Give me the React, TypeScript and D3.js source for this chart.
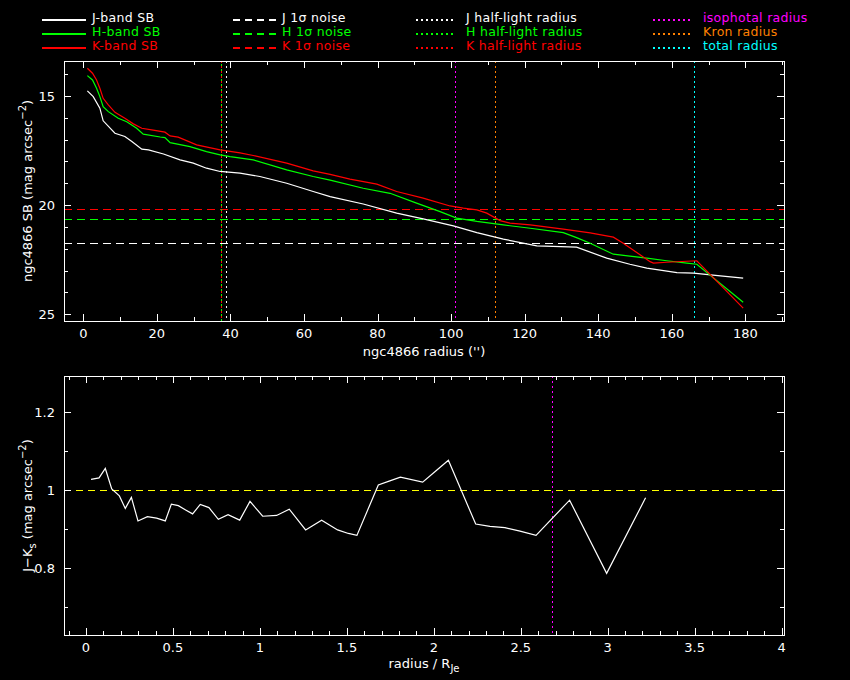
import React, { useEffect } from 'react';
import * as d3 from 'd3';

// surface brightness profiles (radius in arcsec, mag arcsec^-2)
const jRadius = [1.1, 2.7, 4.5, 5.4, 8.6, 11.3, 13.2, 15.9, 17.7, 21.8, 26.3, 29.9, 33.5, 37.2, 42.6, 48, 55.3, 62.5, 67.1, 76.1, 85.2, 92.4, 100.6, 107, 114.2, 123.3, 134.1, 142.3, 148.6, 153.2, 161.4, 165.9, 173.2, 179.4];
const jSB = [14.77, 15.03, 15.56, 16.14, 16.71, 16.86, 17.09, 17.44, 17.47, 17.66, 17.93, 18.08, 18.31, 18.46, 18.54, 18.69, 19.0, 19.38, 19.61, 19.95, 20.37, 20.63, 20.95, 21.26, 21.56, 21.87, 21.93, 22.43, 22.71, 22.89, 23.09, 23.12, 23.24, 23.35];

const hRadius = [1.1, 2.5, 3.6, 4.5, 5.4, 6.8, 9.5, 11.8, 14.5, 16.3, 20.9, 22.2, 23.6, 29, 33.5, 37.2, 39.9, 46.2, 55.3, 62.5, 67.1, 76.1, 83.4, 90.6, 97, 101.5, 107, 114.2, 121.5, 130.5, 134.1, 137.8, 144.1, 148.6, 153.2, 158.6, 164.1, 166.8, 179.4];
const hSB = [14.07, 14.27, 14.65, 15.03, 15.49, 15.72, 16.02, 16.18, 16.48, 16.75, 16.88, 16.91, 17.14, 17.32, 17.55, 17.7, 17.78, 17.93, 18.39, 18.69, 18.86, 19.23, 19.46, 19.91, 20.3, 20.6, 20.75, 20.91, 21.06, 21.26, 21.49, 21.75, 22.25, 22.34, 22.43, 22.55, 22.66, 22.71, 24.45];

const kRadius = [1.1, 2.5, 3.6, 4.5, 5.4, 6.8, 8.6, 11.3, 13.6, 15.9, 19, 22.2, 23.6, 25.8, 30.8, 37.2, 42.6, 46.2, 55.3, 62.5, 67.1, 72.5, 79.8, 85.2, 92.4, 99.7, 103.3, 107, 109.7, 113.3, 116, 121.5, 130.5, 137.8, 144.1, 146.8, 154.1, 155, 158.6, 166.8, 179.4];
const kSB = [13.73, 13.96, 14.27, 14.65, 15.11, 15.41, 15.75, 16.02, 16.28, 16.48, 16.57, 16.66, 16.83, 16.89, 17.24, 17.47, 17.61, 17.73, 18.08, 18.43, 18.59, 18.81, 19.04, 19.38, 19.68, 20.04, 20.14, 20.22, 20.37, 20.71, 20.83, 20.91, 21.1, 21.27, 21.47, 21.75, 22.59, 22.66, 22.62, 22.55, 24.72];

// J-Ks colour profile against radius / R_Je
const colorRadius = [0.029, 0.075, 0.111, 0.148, 0.192, 0.226, 0.261, 0.299, 0.353, 0.406, 0.456, 0.491, 0.531, 0.573, 0.613, 0.657, 0.707, 0.761, 0.817, 0.884, 0.943, 1.016, 1.096, 1.169, 1.263, 1.355, 1.447, 1.509, 1.558, 1.681, 1.739, 1.808, 1.936, 2.013, 2.084, 2.241, 2.323, 2.409, 2.496, 2.588, 2.781, 2.994, 3.218];
const colorJK = [1.027, 1.031, 1.055, 1.003, 0.985, 0.953, 0.981, 0.921, 0.932, 0.928, 0.921, 0.964, 0.96, 0.949, 0.939, 0.963, 0.955, 0.925, 0.937, 0.923, 0.971, 0.933, 0.935, 0.951, 0.898, 0.923, 0.898, 0.889, 0.884, 1.013, 1.022, 1.033, 1.02, 1.049, 1.076, 0.913, 0.907, 0.904, 0.895, 0.884, 0.974, 0.787, 0.98];

// J, H, K
const noiseLevels = [21.74, 20.65, 20.19];
const halfLightRadii = [38.9, 37.4, 37.4];
const isophotalRadius = 101.1;
const kronRadius = 112.0;
const totalRadius = 165.9;
const isophotalScaled = 2.681;
const colorReference = 1.0;

const sbXTicks = [0, 20, 40, 60, 80, 100, 120, 140, 160, 180];
const sbYTicks = [15, 20, 25];
const colorXTicks = [0, 0.5, 1, 1.5, 2, 2.5, 3, 3.5, 4];
const colorYTicks = [0.8, 1, 1.2];

const WHITE = '#ffffff';
const GREEN = '#00ff00';
const RED = '#ff0000';
const MAGENTA = '#ff00ff';
const ORANGE = '#ff8000';
const CYAN = '#00ffff';
const YELLOW = '#ffff00';
const FONT = 'DejaVu Sans, sans-serif';

const L = 64, R = 784;
const top1 = 61, bot1 = 321;
const top2 = 376, bot2 = 635;

function Frame({ x, y, xMajor, xMinor, yMajor, yMinor, top, bottom, xFmt, yFmt }: any) {
  const maj = 7, mn = 4;
  const els: any[] = [];
  xMinor.forEach((v: number, i: number) => {
    const px = Math.round(x(v)) + 0.5;
    els.push(<line key={'xb' + i} x1={px} x2={px} y1={bottom} y2={bottom - mn} />);
    els.push(<line key={'xt' + i} x1={px} x2={px} y1={top} y2={top + mn} />);
  });
  xMajor.forEach((v: number, i: number) => {
    const px = Math.round(x(v)) + 0.5;
    els.push(<line key={'Xb' + i} x1={px} x2={px} y1={bottom} y2={bottom - maj} />);
    els.push(<line key={'Xt' + i} x1={px} x2={px} y1={top} y2={top + maj} />);
  });
  yMinor.forEach((v: number, i: number) => {
    const py = Math.round(y(v)) + 0.5;
    els.push(<line key={'yl' + i} x1={L} x2={L + mn} y1={py} y2={py} />);
    els.push(<line key={'yr' + i} x1={R} x2={R - mn} y1={py} y2={py} />);
  });
  yMajor.forEach((v: number, i: number) => {
    const py = Math.round(y(v)) + 0.5;
    els.push(<line key={'Yl' + i} x1={L} x2={L + maj} y1={py} y2={py} />);
    els.push(<line key={'Yr' + i} x1={R} x2={R - maj} y1={py} y2={py} />);
  });
  return (
    <g>
      <g stroke={WHITE} strokeWidth={1} shapeRendering="crispEdges">
        <rect x={L + 0.5} y={top + 0.5} width={R - L} height={bottom - top} fill="none" />
        {els}
      </g>
      <g fill={WHITE} fontFamily={FONT} fontSize={13}>
        {xMajor.map((v: number, i: number) => (
          <text key={'xl' + i} x={x(v)} y={bottom + 17} textAnchor="middle">{xFmt(v)}</text>
        ))}
        {yMajor.map((v: number, i: number) => (
          <text key={'yl' + i} x={L - 9} y={y(v) + 5} textAnchor="end">{yFmt(v)}</text>
        ))}
      </g>
    </g>
  );
}

export default function App() {
  useEffect(() => {
    document.body.style.margin = '0';
    document.body.style.background = '#000';
  }, []);

  const x1 = d3.scaleLinear().domain([-5.25, 190.5]).range([L, R]);
  const y1 = d3.scaleLinear().domain([13.4, 25.31]).range([top1, bot1]);
  const x2 = d3.scaleLinear().domain([-0.1265, 4.014]).range([L, R]);
  const y2 = d3.scaleLinear().domain([0.6296, 1.2912]).range([bot2, top2]);

  const sbLine = d3.line<[number, number]>().x(d => x1(d[0])).y(d => y1(d[1]));
  const colLine = d3.line<[number, number]>().x(d => x2(d[0])).y(d => y2(d[1]));

  const profiles = [
    { r: jRadius, sb: jSB, color: WHITE },
    { r: hRadius, sb: hSB, color: GREEN },
    { r: kRadius, sb: kSB, color: RED },
  ];
  const bandColors = [WHITE, GREEN, RED];
  const bands = ['J', 'H', 'K'];

  const verticals = [
    { v: halfLightRadii[0], c: WHITE, off: 0 },
    { v: halfLightRadii[2], c: RED, off: 0 },
    { v: halfLightRadii[1], c: GREEN, off: 2.5 },
    { v: isophotalRadius, c: MAGENTA, off: 0 },
    { v: kronRadius, c: ORANGE, off: 0 },
    { v: totalRadius, c: CYAN, off: 0 },
  ];

  const rowText = [21.5, 35.5, 49.5];
  const rowLine = [20, 34, 48];
  const col4 = [
    { label: 'isophotal radius', c: MAGENTA },
    { label: 'Kron radius', c: ORANGE },
    { label: 'total radius', c: CYAN },
  ];

  return (
    <div style={{ position: 'absolute', left: 0, top: 0, width: 850, height: 680, background: '#000' }}>
      <svg width={850} height={680} style={{ display: 'block', background: '#000' }}>
        {/* legend */}
        <g fontFamily={FONT} fontSize={12.5} letterSpacing={0.3}>
          {bands.map((b, i) => (
            <g key={'lg' + b}>
              <line x1={42} x2={86} y1={rowLine[i]} y2={rowLine[i]} stroke={bandColors[i]} strokeWidth={2} shapeRendering="crispEdges" />
              <text x={92} y={rowText[i]} fill={bandColors[i]}>{b}-band SB</text>
              <line x1={233} x2={276} y1={rowLine[i]} y2={rowLine[i]} stroke={bandColors[i]} strokeWidth={2} strokeDasharray="7,5" shapeRendering="crispEdges" />
              <text x={282} y={rowText[i]} fill={bandColors[i]}>{b} 1σ noise</text>
              <line x1={416} x2={456} y1={rowLine[i]} y2={rowLine[i]} stroke={bandColors[i]} strokeWidth={1.5} strokeDasharray="2,3" shapeRendering="crispEdges" />
              <text x={466} y={rowText[i]} fill={bandColors[i]}>{b} half-light radius</text>
              <line x1={653} x2={693} y1={rowLine[i]} y2={rowLine[i]} stroke={col4[i].c} strokeWidth={1.5} strokeDasharray="2,3" shapeRendering="crispEdges" />
              <text x={703} y={rowText[i]} fill={col4[i].c}>{col4[i].label}</text>
            </g>
          ))}
        </g>

        {/* top panel */}
        <defs>
          <clipPath id="c1"><rect x={L} y={top1} width={R - L} height={bot1 - top1} /></clipPath>
          <clipPath id="c2"><rect x={L} y={top2} width={R - L} height={bot2 - top2} /></clipPath>
        </defs>
        <g clipPath="url(#c1)">
          {noiseLevels.map((n, i) => (
            <line key={'n' + i} x1={L} x2={R} y1={Math.round(y1(n)) + 0.5} y2={Math.round(y1(n)) + 0.5}
              stroke={bandColors[i]} strokeWidth={1} strokeDasharray="8,5" shapeRendering="crispEdges" />
          ))}
          {verticals.map((v, i) => (
            <line key={'v' + i} x1={Math.round(x1(v.v)) + 0.5} x2={Math.round(x1(v.v)) + 0.5} y1={top1} y2={bot1}
              stroke={v.c} strokeWidth={1.3} strokeDasharray="2,3" strokeDashoffset={v.off} shapeRendering="crispEdges" />
          ))}
          {profiles.map((p, i) => (
            <path key={'p' + i} d={sbLine(p.r.map((r, j) => [r, p.sb[j]] as [number, number])) || ''}
              fill="none" stroke={p.color} strokeWidth={1.2} />
          ))}
        </g>
        <Frame x={x1} y={y1} xMajor={sbXTicks} xMinor={d3.range(0, 191, 10)}
          yMajor={sbYTicks} yMinor={d3.range(14, 26, 1)} top={top1} bottom={bot1}
          xFmt={(v: number) => String(v)} yFmt={(v: number) => String(v)} />
        <text x={(L + R) / 2} y={356} fill={WHITE} fontFamily={FONT} fontSize={13} textAnchor="middle">ngc4866 radius ('')</text>
        <text transform={`translate(32,${(top1 + bot1) / 2}) rotate(-90)`} fill={WHITE} fontFamily={FONT} fontSize={13} textAnchor="middle">
          ngc4866 SB (mag arcsec<tspan dy={-6} fontSize={10}>−2</tspan><tspan dy={6}>)</tspan>
        </text>

        {/* bottom panel */}
        <g clipPath="url(#c2)">
          <line x1={L} x2={R} y1={Math.round(y2(colorReference)) + 0.5} y2={Math.round(y2(colorReference)) + 0.5}
            stroke={YELLOW} strokeWidth={1.2} strokeDasharray="7,5" shapeRendering="crispEdges" />
          <line x1={Math.round(x2(isophotalScaled)) + 0.5} x2={Math.round(x2(isophotalScaled)) + 0.5} y1={top2} y2={bot2}
            stroke={MAGENTA} strokeWidth={1.3} strokeDasharray="2,3" shapeRendering="crispEdges" />
          <path d={colLine(colorRadius.map((r, j) => [r, colorJK[j]] as [number, number])) || ''}
            fill="none" stroke={WHITE} strokeWidth={1.2} />
        </g>
        <Frame x={x2} y={y2} xMajor={colorXTicks} xMinor={d3.range(-1, 41).map(i => i / 10)}
          yMajor={colorYTicks} yMinor={[0.7, 0.9, 1.1]} top={top2} bottom={bot2}
          xFmt={(v: number) => String(v)} yFmt={(v: number) => String(v)} />
        <text x={(L + R) / 2} y={668} fill={WHITE} fontFamily={FONT} fontSize={13} textAnchor="middle">
          radius / R<tspan dy={4} fontSize={10}>Je</tspan>
        </text>
        <text transform={`translate(32,${(top2 + bot2) / 2}) rotate(-90)`} fill={WHITE} fontFamily={FONT} fontSize={13} textAnchor="middle">
          J−K<tspan dy={4} fontSize={10}>s</tspan><tspan dy={-4}> (mag arcsec</tspan><tspan dy={-6} fontSize={10}>−2</tspan><tspan dy={6}>)</tspan>
        </text>
      </svg>
    </div>
  );
}
